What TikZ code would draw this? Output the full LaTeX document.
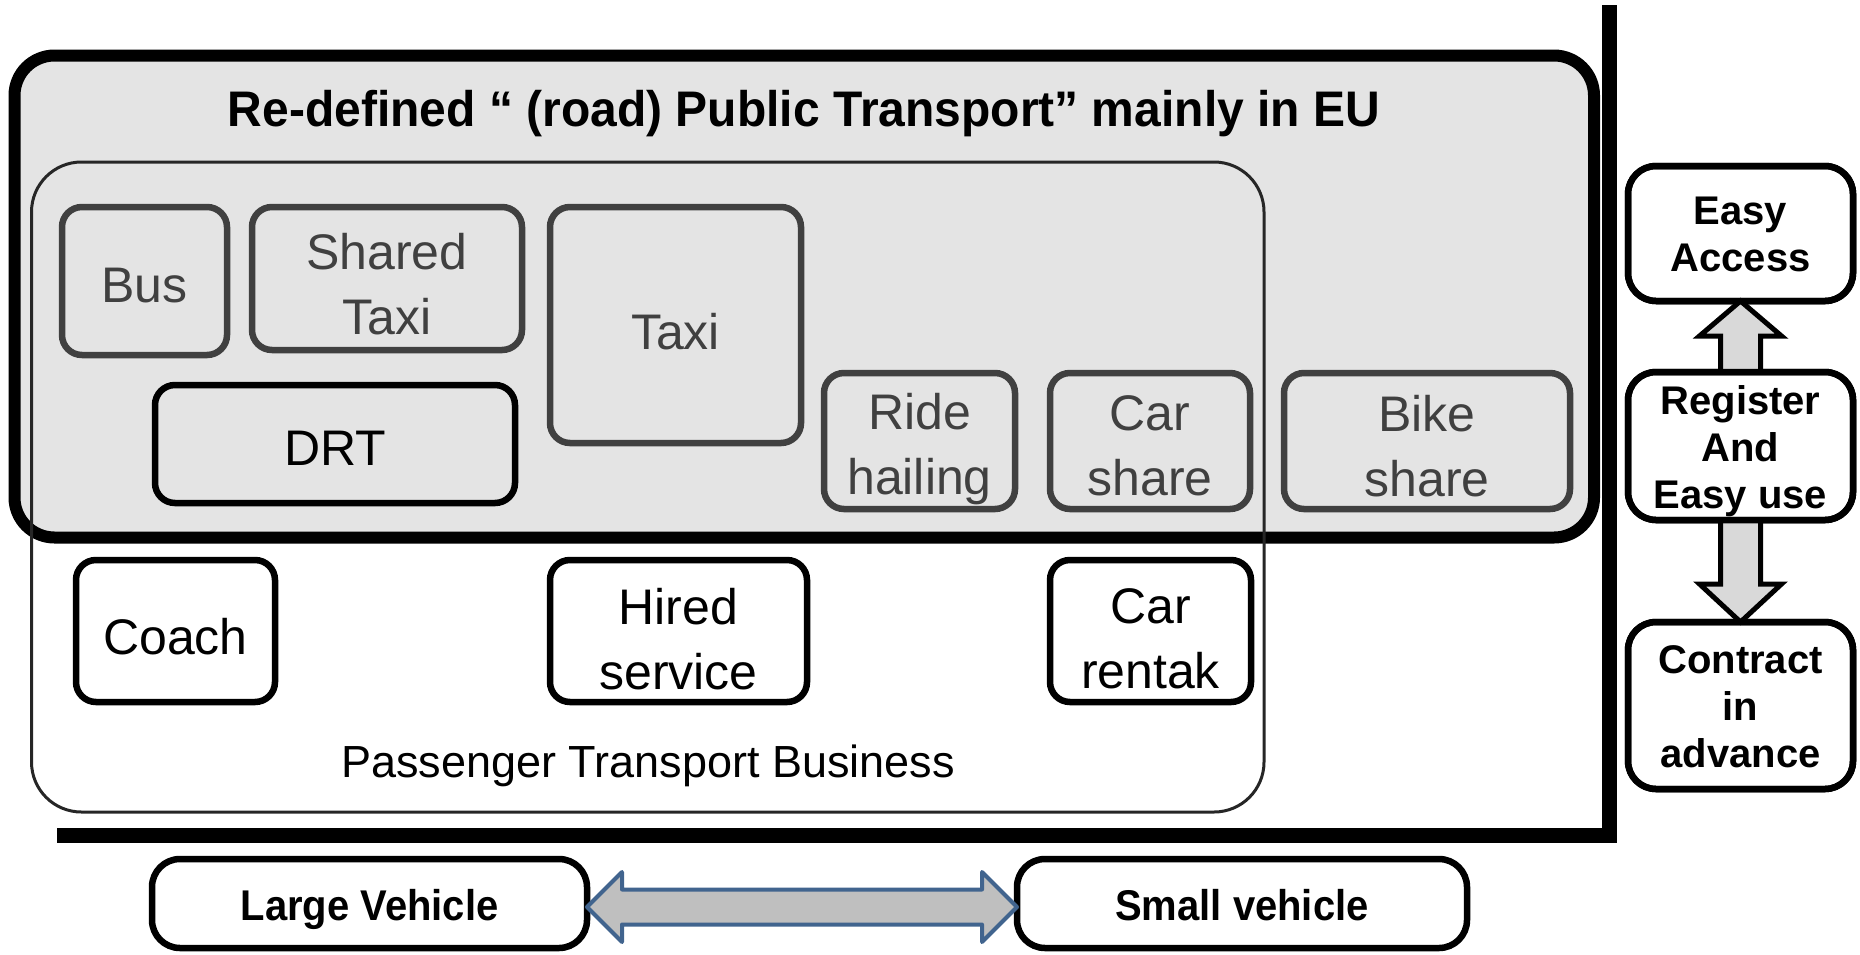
\documentclass[tikz,border=0pt]{standalone}
\usepackage{fontspec}
\setmainfont{Liberation Sans}
\newfontfamily\titlefont[FakeStretch=0.96]{Liberation Sans}
\newfontfamily\narrowfont[FakeStretch=0.93]{Liberation Sans}
\usetikzlibrary{calc}
\definecolor{dgray}{HTML}{404040}
\definecolor{panel}{HTML}{E4E4E4}
\definecolor{pline}{HTML}{262626}
\definecolor{arrfill}{HTML}{D9D9D9}
\definecolor{harrfill}{HTML}{BFBFBF}
\definecolor{harrline}{HTML}{41648E}
\tikzset{
  sz/.style 2 args={minimum width=#1pt, minimum height=#2pt},
  gbox/.style={draw=dgray, line width=6.5pt, rounded corners=20pt, inner sep=0pt, outer sep=0pt},
  bbox/.style={gbox, draw=black},
  wbox/.style={gbox, draw=black, fill=white},
  gtext/.style={text=dgray, font=\fontsize{50}{65}\selectfont, align=center, inner sep=0pt},
  btext/.style={gtext, text=black},
  rbox/.style={draw=black, line width=6.5pt, rounded corners=28pt, fill=white,
    font=\bfseries\fontsize{40}{47}\selectfont, align=center, inner sep=0pt, outer sep=0pt},
  rtext/.style={font=\bfseries\fontsize{40}{47}\selectfont, align=center, inner sep=0pt},
  vtext/.style={font=\narrowfont\bfseries\fontsize{43}{50}\selectfont, inner sep=0pt},
  blockarrow/.style={draw=black, line width=5pt, fill=arrfill, line join=miter},
  hblockarrow/.style={draw=harrline, line width=4pt, fill=harrfill, line join=round},
}
\begin{document}
\begin{tikzpicture}[x=1pt,y=-1pt]
\useasboundingbox (0,0) rectangle (1860,954);

% outer re-defined public transport panel
\node[draw=black, fill=panel, line width=12pt, rounded corners=40pt, inner sep=0pt, outer sep=0pt,
  sz={1579.5}{482}] (eu) at (804.25,296.5) {};
\node[font=\titlefont\bfseries\fontsize{50}{60}\selectfont, inner sep=0pt] (title) at (804,114)
  {Re-defined “ (road) Public Transport” mainly in EU};

% passenger transport business
\node[draw=pline, line width=3pt, rounded corners=50pt, inner sep=0pt, outer sep=0pt,
  sz={1232.5}{650}] (ptb) at (647.75,487) {};
\node[font=\fontsize{45}{52}\selectfont, inner sep=0pt] (ptblabel) at (648,766)
  {Passenger Transport Business};

% inner boxes (in the panel)
\node[gbox, sz={165}{148}] (bus) at (144.5,281) {};
\node[gbox, sz={270}{143}] (shtaxi) at (387,278.5) {};
\node[gbox, sz={251}{236}] (taxi) at (675.5,325) {};
\node[bbox, sz={360}{118}] (drt) at (335,444) {};
\node[gbox, sz={191}{136}] (ride) at (919.5,441) {};
\node[gbox, sz={200}{136}] (carshare) at (1150,441) {};
\node[gbox, sz={286}{136}] (bike) at (1427,441) {};
\node[gtext] (bust) at ($(bus)+(0,5)$) {Bus};
\node[gtext] (shtaxit) at ($(shtaxi)+(0,6)$) {Shared\\Taxi};
\node[gtext] (taxit) at ($(taxi)+(0,7)$) {Taxi};
\node[btext] (drtt) at ($(drt)+(0,4)$) {DRT};
\node[gtext] (ridet) at ($(ride)+(0,8)$) {Ride\\hailing};
\node[gtext] (carsharet) at ($(carshare)+(0,5)$) {Car\\share};
\node[gtext] (biket) at ($(bike)+(0,5)$) {Bike\\share};

% boxes below the panel
\node[wbox, sz={199}{142}] (coach) at (175.5,631) {};
\node[wbox, sz={257}{142}] (hired) at (678.5,631) {};
\node[wbox, sz={201}{142}] (rental) at (1150.5,631) {};
\node[btext] (coacht) at ($(coach)+(0,6)$) {Coach};
\node[btext] (hiredt) at ($(hired)+(0,8)$) {Hired\\service};
\node[btext] (rentalt) at ($(rental)+(0,8)$) {Car\\rentak};

% dividing L line
\coordinate (lstart) at (57,835.5);
\coordinate (lcorner) at (1609,835.5);
\coordinate (lend) at (1609,5);
\draw[line width=15pt, line join=miter] (lstart) -- (lcorner) -- (lend);

% right column
\node[rbox, sz={225}{135}] (easy) at (1740.5,233.5) {};
\node[rbox, sz={225}{148}] (reg) at (1740.5,446) {};
\node[rbox, sz={225}{167}] (con) at (1740.5,705.5) {};

\draw[blockarrow] let \p1=(easy.south), \p2=(reg.north) in
  (\x1,\y1) -- (\x1+41pt,\y1-35pt) -- (\x1+20pt,\y1-35pt) -- (\x1+20pt,\y2)
  -- (\x1-20pt,\y2) -- (\x1-20pt,\y1-35pt) -- (\x1-41pt,\y1-35pt) -- cycle;
\draw[blockarrow] let \p1=(reg.south), \p2=(con.north) in
  (\x1-20pt,\y1) -- (\x1+20pt,\y1) -- (\x1+20pt,\y2+38pt) -- (\x1+41pt,\y2+38pt)
  -- (\x2,\y2) -- (\x1-41pt,\y2+38pt) -- (\x1-20pt,\y2+38pt) -- cycle;
% redraw box borders over arrow ends
\node[rbox, fill=none, sz={225}{135}] (easyb) at (easy) {};
\node[rbox, fill=none, sz={225}{148}] (regb) at (reg) {};
\node[rbox, fill=none, sz={225}{167}] (conb) at (con) {};
\node[rtext] (easyt) at ($(easy)+(0,1)$) {Easy\\Access};
\node[rtext] (regt) at ($(reg)+(0,5)$) {Register\\And\\Easy use};
\node[rtext] (cont) at ($(con)+(0,1)$) {Contract\\in\\advance};

% bottom row
\node[rbox, sz={435}{89}] (lv) at (369.5,903.5) {};
\node[rbox, sz={450}{89}] (sv) at (1242,903.5) {};
\node[vtext] (lvt) at ($(lv)+(0,6)$) {Large Vehicle};
\node[vtext] (svt) at ($(sv)+(0,2)$) {Small vehicle};
\draw[hblockarrow] let \p1=($(lv.east)+(0,3.5)$), \p2=($(sv.west)+(0,3.5)$) in
  (\x1,\y1) -- (\x1+35pt,\y1+35pt) -- (\x1+35pt,\y1+17.5pt) -- (\x2-35pt,\y1+17.5pt)
  -- (\x2-35pt,\y1+35pt) -- (\x2,\y1) -- (\x2-35pt,\y1-35pt) -- (\x2-35pt,\y1-17.5pt)
  -- (\x1+35pt,\y1-17.5pt) -- (\x1+35pt,\y1-35pt) -- cycle;
\end{tikzpicture}
\end{document}
